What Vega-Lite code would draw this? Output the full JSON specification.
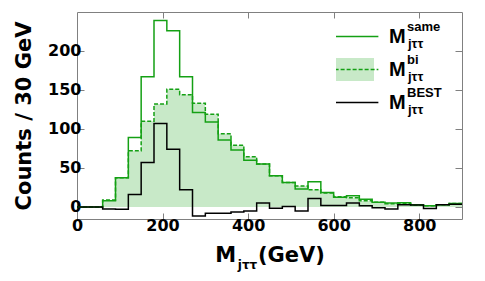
{
  "$schema": "https://vega.github.io/schema/vega-lite/v6.json",
  "width": 385,
  "height": 207,
  "autosize": {"type": "none"},
  "padding": {"left": 77, "top": 12, "right": 23, "bottom": 62},
  "background": "white",
  "config": {
    "view": {"stroke": "#808080", "strokeWidth": 1},
    "axis": {
      "grid": false, "domain": false, "tickColor": "#808080", "tickWidth": 1,
      "labelFont": "DejaVu Sans", "labelFontWeight": "bold", "labelFontSize": 16, "labelColor": "black",
      "titleFont": "DejaVu Sans", "titleFontWeight": "bold", "titleFontSize": 21, "titleColor": "black",
      "labelFlush": false, "labelOverlap": false
    }
  },
  "data": {"values": [
    {"m":0,"s":"same","n":0},{"m":30,"s":"same","n":0},{"m":60,"s":"same","n":8},{"m":90,"s":"same","n":37.5},{"m":120,"s":"same","n":89},{"m":150,"s":"same","n":167},{"m":180,"s":"same","n":239},{"m":210,"s":"same","n":226},{"m":240,"s":"same","n":167},{"m":270,"s":"same","n":121},{"m":300,"s":"same","n":109},{"m":330,"s":"same","n":86},{"m":360,"s":"same","n":73},{"m":390,"s":"same","n":60},{"m":420,"s":"same","n":55},{"m":450,"s":"same","n":40},{"m":480,"s":"same","n":31.5},{"m":510,"s":"same","n":23},{"m":540,"s":"same","n":32.5},{"m":570,"s":"same","n":18.5},{"m":600,"s":"same","n":12.5},{"m":630,"s":"same","n":14.5},{"m":660,"s":"same","n":10},{"m":690,"s":"same","n":6},{"m":720,"s":"same","n":5},{"m":750,"s":"same","n":5.5},{"m":780,"s":"same","n":3},{"m":810,"s":"same","n":1.5},{"m":840,"s":"same","n":3},{"m":870,"s":"same","n":4.5},{"m":900,"s":"same","n":4.5},
    {"m":0,"s":"bi","n":0},{"m":30,"s":"bi","n":0},{"m":60,"s":"bi","n":9},{"m":90,"s":"bi","n":37.5},{"m":120,"s":"bi","n":72},{"m":150,"s":"bi","n":110},{"m":180,"s":"bi","n":132},{"m":210,"s":"bi","n":151},{"m":240,"s":"bi","n":144},{"m":270,"s":"bi","n":133},{"m":300,"s":"bi","n":119},{"m":330,"s":"bi","n":94},{"m":360,"s":"bi","n":79},{"m":390,"s":"bi","n":64.5},{"m":420,"s":"bi","n":55},{"m":450,"s":"bi","n":40},{"m":480,"s":"bi","n":31.5},{"m":510,"s":"bi","n":27},{"m":540,"s":"bi","n":22},{"m":570,"s":"bi","n":18},{"m":600,"s":"bi","n":13},{"m":630,"s":"bi","n":12},{"m":660,"s":"bi","n":8},{"m":690,"s":"bi","n":6},{"m":720,"s":"bi","n":4},{"m":750,"s":"bi","n":4},{"m":780,"s":"bi","n":2.5},{"m":810,"s":"bi","n":1.5},{"m":840,"s":"bi","n":3},{"m":870,"s":"bi","n":4.5},{"m":900,"s":"bi","n":4.5},
    {"m":0,"s":"BEST","n":0},{"m":30,"s":"BEST","n":0},{"m":60,"s":"BEST","n":-2.5},{"m":90,"s":"BEST","n":-3},{"m":120,"s":"BEST","n":16},{"m":150,"s":"BEST","n":57},{"m":180,"s":"BEST","n":107},{"m":210,"s":"BEST","n":74},{"m":240,"s":"BEST","n":22},{"m":270,"s":"BEST","n":-11.5},{"m":300,"s":"BEST","n":-8},{"m":330,"s":"BEST","n":-8},{"m":360,"s":"BEST","n":-6.5},{"m":390,"s":"BEST","n":-5},{"m":420,"s":"BEST","n":5},{"m":450,"s":"BEST","n":-1.5},{"m":480,"s":"BEST","n":0.5},{"m":510,"s":"BEST","n":-5},{"m":540,"s":"BEST","n":11},{"m":570,"s":"BEST","n":2},{"m":600,"s":"BEST","n":2},{"m":630,"s":"BEST","n":5},{"m":660,"s":"BEST","n":1.5},{"m":690,"s":"BEST","n":-1},{"m":720,"s":"BEST","n":-2.5},{"m":750,"s":"BEST","n":3},{"m":780,"s":"BEST","n":2.5},{"m":810,"s":"BEST","n":-2},{"m":840,"s":"BEST","n":3},{"m":870,"s":"BEST","n":3.5},{"m":900,"s":"BEST","n":3.5}
  ]},
  "resolve": {"axis": {"x": "independent", "y": "independent"}},
  "layer": [
    {
      "transform": [{"filter": "datum.s === 'bi'"}],
      "mark": {"type": "area", "interpolate": "step-after", "opacity": 1, "clip": true},
      "encoding": {
        "x": {"field": "m", "type": "quantitative",
          "scale": {"domain": [0, 900], "nice": false, "zero": false},
          "axis": {"orient": "bottom", "values": [0, 200, 400, 600, 800], "tickSize": -6, "labelPadding": 4, "title": "M\u00a0\u00a0\u00a0(GeV)", "titlePadding": 11}},
        "y": {"field": "n", "type": "quantitative",
          "scale": {"domain": [-15.4, 250], "nice": false, "zero": false},
          "axis": {"orient": "left", "values": [0, 50, 100, 150, 200], "tickSize": -7, "labelPadding": 3, "title": "Counts / 30 GeV", "titlePadding": 13}},
        "y2": {"datum": 0},
        "fill": {"field": "s", "type": "nominal", "scale": {"range": ["#c8e9c8"]},
          "legend": {"orient": "none", "legendX": 259, "legendY": 41, "title": null, "symbolType": "M-1.5,-0.7H1.5V0.7H-1.5Z", "symbolSize": 1100, "symbolStrokeWidth": 0, "symbolOpacity": 1, "labelExpr": "''", "padding": 0, "clipHeight": 33, "zindex": 1}}
      }
    },
    {
      "transform": [{"filter": "datum.s === 'bi'"}],
      "mark": {"type": "line", "interpolate": "step-after", "clip": true},
      "encoding": {
        "x": {"field": "m", "type": "quantitative", "axis": null},
        "y": {"field": "n", "type": "quantitative", "axis": null},
        "color": {"field": "s", "type": "nominal", "scale": {"domain": ["same", "bi", "BEST"], "range": ["#14a014", "#14a014", "#000000"]},
          "legend": {"orient": "none", "legendX": 259, "legendY": 8, "title": null, "symbolType": "M-1.5,0H1.5", "symbolSize": 1100, "symbolStrokeWidth": 1.5, "labelExpr": "'M'", "labelFont": "Liberation Sans", "labelFontWeight": "bold", "labelFontSize": 20, "labelColor": "black", "labelOffset": 18, "rowPadding": 0, "padding": 0, "clipHeight": 33, "zindex": 2,
            "encode": {"symbols": {"update": {"stroke": {"signal": "datum.value === 'BEST' ? '#7a7a7a' : '#14a014'"}}}}}},
        "strokeDash": {"field": "s", "type": "nominal", "scale": {"domain": ["same", "bi", "BEST"], "range": [[1, 0], [4, 2], [1, 0]]},
          "legend": {"orient": "none", "legendX": 259, "legendY": 8, "title": null, "symbolType": "M-1.5,0H1.5", "symbolSize": 1100, "symbolStrokeWidth": 1.5, "labelExpr": "'M'", "labelFont": "Liberation Sans", "labelFontWeight": "bold", "labelFontSize": 20, "labelColor": "black", "labelOffset": 18, "rowPadding": 0, "padding": 0, "clipHeight": 33, "zindex": 2,
            "encode": {"symbols": {"update": {"stroke": {"signal": "datum.value === 'BEST' ? '#7a7a7a' : '#14a014'"}}}}}},
        "opacity": {"field": "s", "type": "ordinal", "sort": "descending", "scale": {"range": [1, 1]},
          "legend": {"orient": "none", "legendX": 259, "legendY": -2, "title": null, "symbolType": "M-1.5,0H1.5", "symbolSize": 1100, "symbolOpacity": 0, "symbolStrokeWidth": 0, "labelFont": "Liberation Sans", "labelFontWeight": "bold", "labelFontSize": 13, "labelColor": "black", "labelBaseline": "middle", "labelOffset": 37, "rowPadding": 0, "padding": 0, "clipHeight": 33, "zindex": 3}},
        "strokeWidth": {"field": "s", "type": "ordinal", "sort": ["same", "bi", "BEST"], "scale": {"range": [1.5, 1.5]},
          "legend": {"orient": "none", "legendX": 259, "legendY": 15, "title": null, "symbolType": "M-1.5,0H1.5", "symbolSize": 1100, "symbolOpacity": 0, "symbolStrokeWidth": 0, "labelExpr": "'jττ'", "labelFont": "Liberation Sans", "labelFontWeight": "bold", "labelFontSize": 13, "labelColor": "black", "labelBaseline": "middle", "labelOffset": 37, "rowPadding": 0, "padding": 0, "clipHeight": 33, "zindex": 3}}
      }
    },
    {
      "transform": [{"filter": "datum.s === 'same'"}],
      "mark": {"type": "line", "interpolate": "step-after", "clip": true},
      "encoding": {
        "x": {"field": "m", "type": "quantitative",
          "axis": {"orient": "bottom", "labels": false, "ticks": false, "title": "jττ", "titleFontSize": 12, "titleX": 170, "titleY": 40, "titleAlign": "center", "titleBaseline": "top"}},
        "y": {"field": "n", "type": "quantitative", "axis": null},
        "color": {"field": "s", "type": "nominal", "scale": {"domain": ["same", "bi", "BEST"], "range": ["#14a014", "#14a014", "#000000"]}},
        "strokeDash": {"field": "s", "type": "nominal", "scale": {"domain": ["same", "bi", "BEST"], "range": [[1, 0], [4, 2], [1, 0]]}},
        "opacity": {"field": "s", "type": "ordinal", "sort": "descending", "scale": {"range": [1, 1]}},
        "strokeWidth": {"field": "s", "type": "ordinal", "sort": ["same", "bi", "BEST"], "scale": {"range": [1.5, 1.5]}}
      }
    },
    {
      "transform": [{"filter": "datum.s === 'BEST'"}],
      "mark": {"type": "line", "interpolate": "step-after", "clip": true},
      "encoding": {
        "x": {"field": "m", "type": "quantitative",
          "axis": {"orient": "top", "values": [200, 400, 600, 800], "labels": false, "tickSize": -6, "title": null}},
        "y": {"field": "n", "type": "quantitative",
          "axis": {"orient": "right", "values": [0, 50, 100, 150, 200], "labels": false, "tickSize": -7, "title": null}},
        "color": {"field": "s", "type": "nominal", "scale": {"domain": ["same", "bi", "BEST"], "range": ["#14a014", "#14a014", "#000000"]}},
        "strokeDash": {"field": "s", "type": "nominal", "scale": {"domain": ["same", "bi", "BEST"], "range": [[1, 0], [4, 2], [1, 0]]}},
        "opacity": {"field": "s", "type": "ordinal", "sort": "descending", "scale": {"range": [1, 1]}},
        "strokeWidth": {"field": "s", "type": "ordinal", "sort": ["same", "bi", "BEST"], "scale": {"range": [1.5, 1.5]}}
      }
    }
  ]
}
